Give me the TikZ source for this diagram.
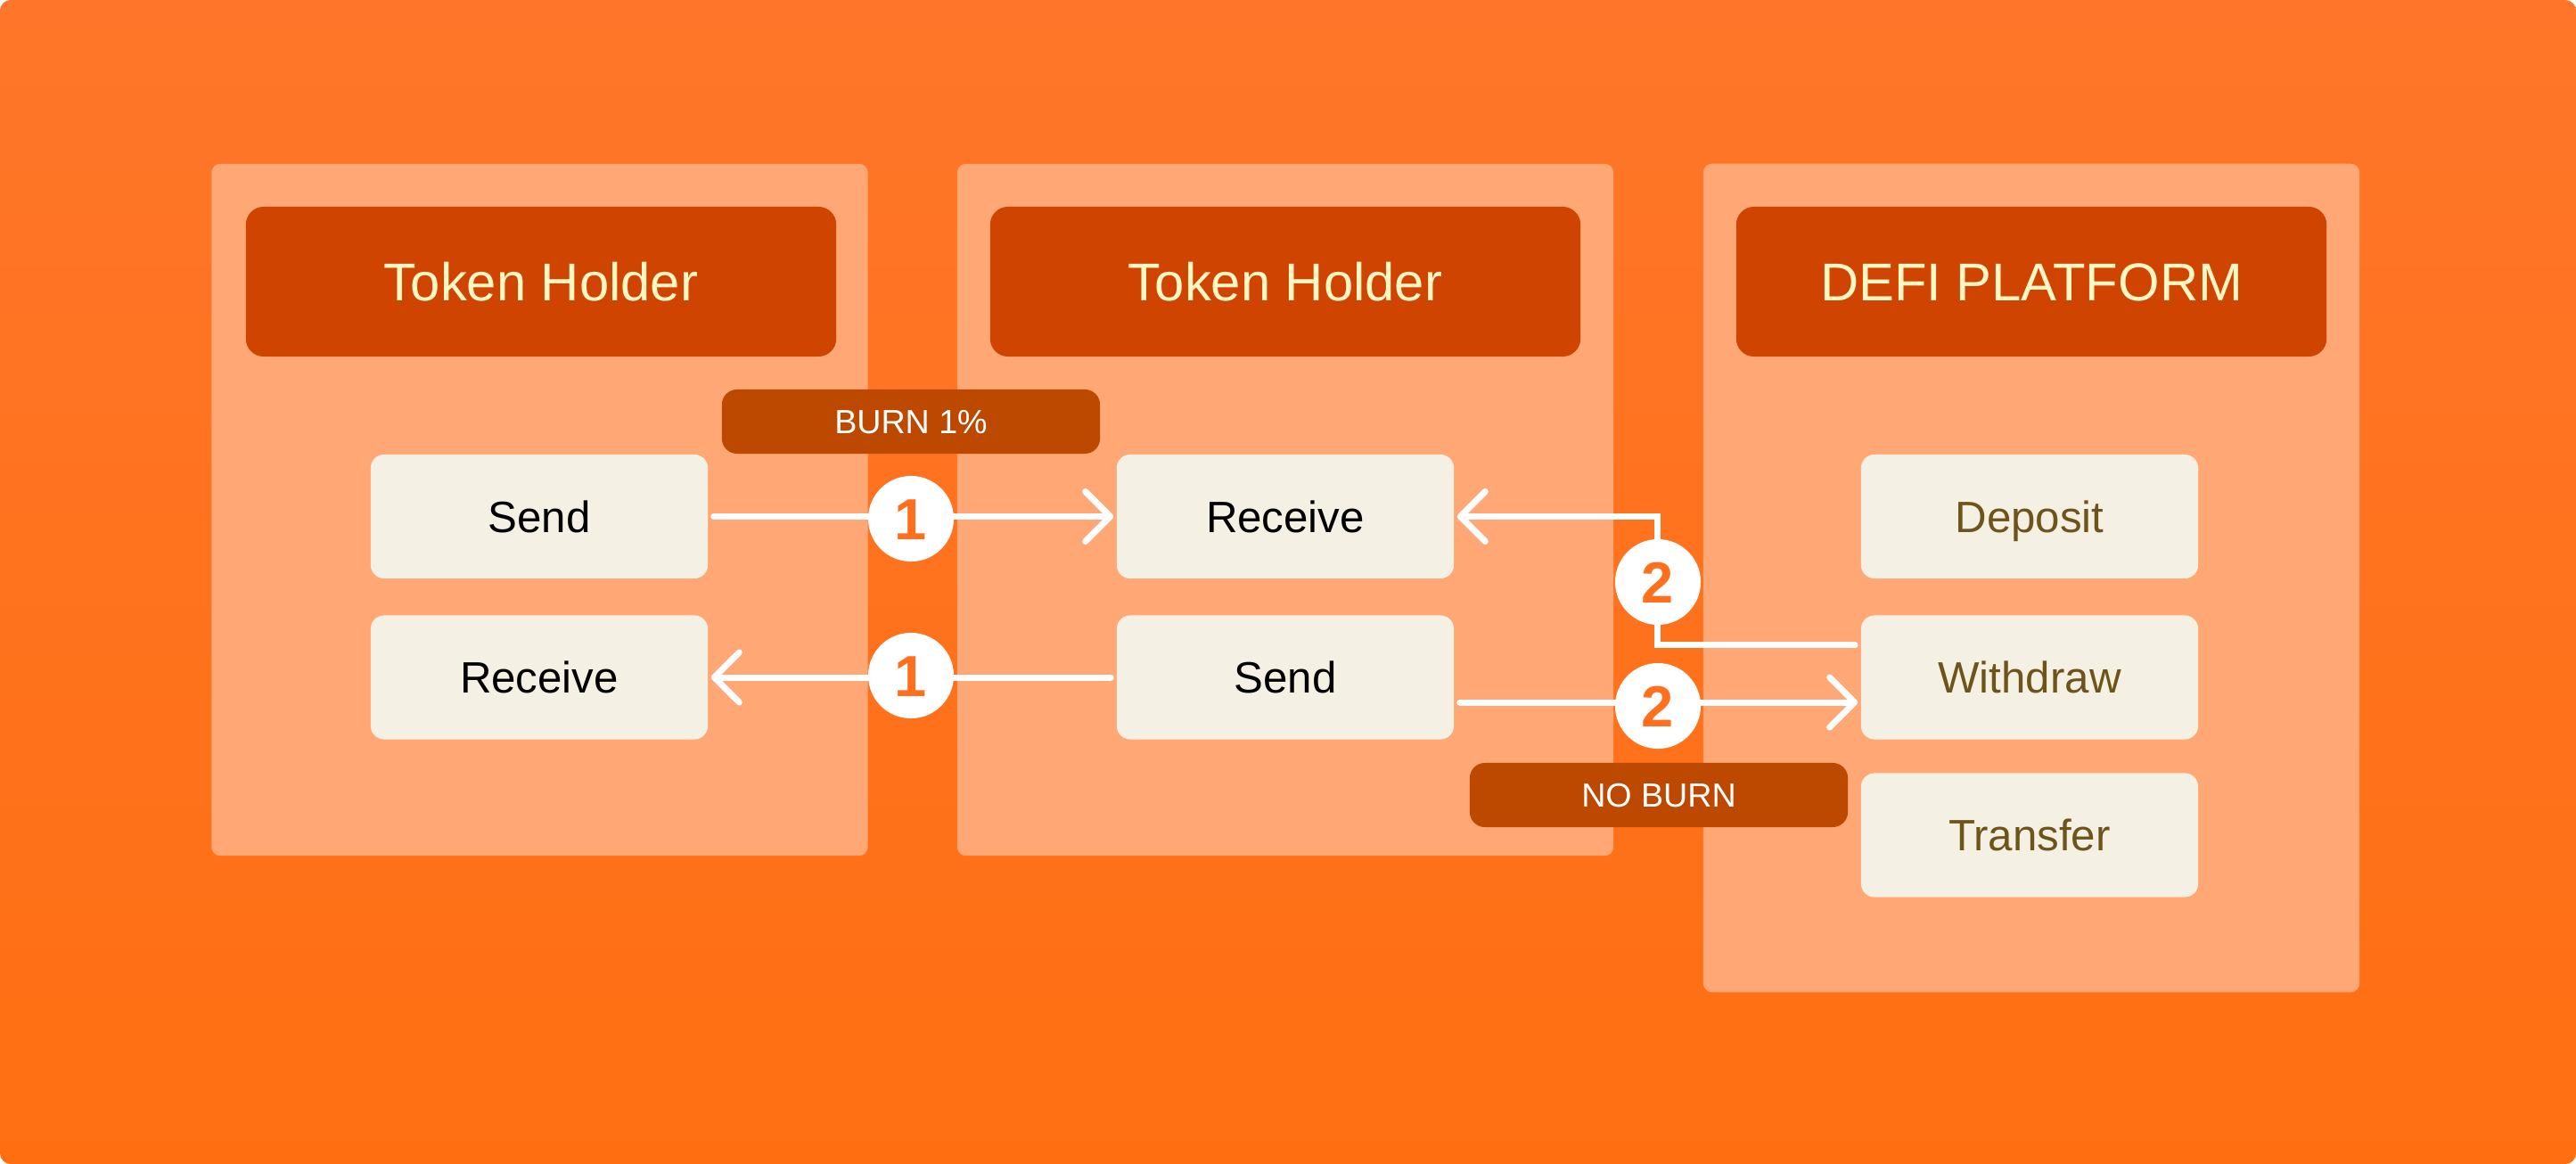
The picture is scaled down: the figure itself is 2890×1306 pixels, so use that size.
\documentclass[tikz,border=0pt]{standalone}
\usepackage{fontspec}
\setmainfont{Liberation Sans}
\usepackage{xcolor}
\usetikzlibrary{arrows.meta,positioning}

\definecolor{bgtop}{RGB}{255,118,42}
\definecolor{bgbot}{RGB}{255,111,18}
\definecolor{panelc}{RGB}{255,168,117}
\definecolor{headc}{RGB}{207,68,0}
\definecolor{tagc}{RGB}{189,72,0}
\definecolor{itemc}{RGB}{245,240,228}
\definecolor{headtxt}{RGB}{255,246,196}
\definecolor{olivetxt}{RGB}{110,84,24}
\definecolor{numtxt}{RGB}{255,112,30}

\begin{document}
\begin{tikzpicture}[
    x=0.01cm, y=-0.01cm,
    every node/.style={inner sep=0pt,text depth=0pt},
    panel/.style={rectangle,rounded corners=0.1cm,fill=panelc,minimum width=7.36cm},
    head/.style={rectangle,rounded corners=0.2cm,fill=headc,minimum width=6.62cm,
                 minimum height=1.68cm,text=headtxt,text height=12.2pt,
                 font=\fontsize{17}{20}\selectfont},
    item/.style={rectangle,rounded corners=0.15cm,fill=itemc,minimum width=3.78cm,
                 minimum height=1.39cm,text height=10pt,font=\fontsize{14}{17}\selectfont},
    tag/.style={rectangle,rounded corners=0.17cm,fill=tagc,minimum width=4.24cm,
                minimum height=0.72cm,text=white,text height=7.7pt,
                font=\fontsize{10.7}{13}\selectfont},
    num/.style={circle,fill=white,minimum size=0.96cm,text=numtxt,text height=13.2pt,
                font=\fontsize{18.5}{20}\selectfont\bfseries},
    flow/.style={white,line width=0.07cm,line cap=round,shorten <=0.06cm,shorten >=0.03cm,
                 -{Straight Barb[length=0.28cm,width=0.56cm,round]}}
]
\useasboundingbox (0,0) rectangle (2890,1306);

% Background
\fill[white] (0,0) rectangle (2890,1306);
\shade[top color=bgtop,bottom color=bgbot,rounded corners=0.12cm] (0,0) rectangle (2890,1306);

% Panels
\node[panel,minimum height=7.76cm] (pan1) at (605.5,572) {};
\node[panel,minimum height=7.76cm] (pan2) at (1442,572) {};
\node[panel,minimum height=9.29cm] (pan3) at (2279,648.5) {};

% Headers
\node[head] (hold1) at (607,316) {Token Holder};
\node[head] (hold2) at (1442,316) {Token Holder};
\node[head] (defi) at (2279,316) {DEFI PLATFORM};

% First holder
\node[item] (send1) at (605,579.5) {Send};
\node[item] (recv1) at (605,760) {Receive};

% Second holder
\node[item] (recv2) at (1442,579.5) {Receive};
\node[item] (send2) at (1442,760) {Send};

% Platform actions
\node[item,text=olivetxt] (depo) at (2277,579.5) {Deposit};
\node[item,text=olivetxt] (wdraw) at (2277,760) {Withdraw};
\node[item,text=olivetxt] (xfer) at (2277,937) {Transfer};

% Tags
\node[tag] (burn) at (1022,473) {BURN 1\%};
\node[tag] (noburn) at (1861,892) {NO BURN};

% Holder to holder
\draw[flow] (send1) -- (recv2);
\draw[flow] (send2) -- (recv1);

% Holder to platform
\draw[flow] ([yshift=-0.28cm]send2.east) -- ([yshift=-0.28cm]wdraw.west);
\draw[flow] ([yshift=0.36cm]wdraw.west) -- ++(-228,0) |- (recv2.east);

% Step numbers
\node[num] (n1a) at (1022,582) {1};
\node[num] (n1b) at (1022,758) {1};
\node[num] (n2a) at (1860,653) {2};
\node[num] (n2b) at (1860,792) {2};

\end{tikzpicture}
\end{document}
